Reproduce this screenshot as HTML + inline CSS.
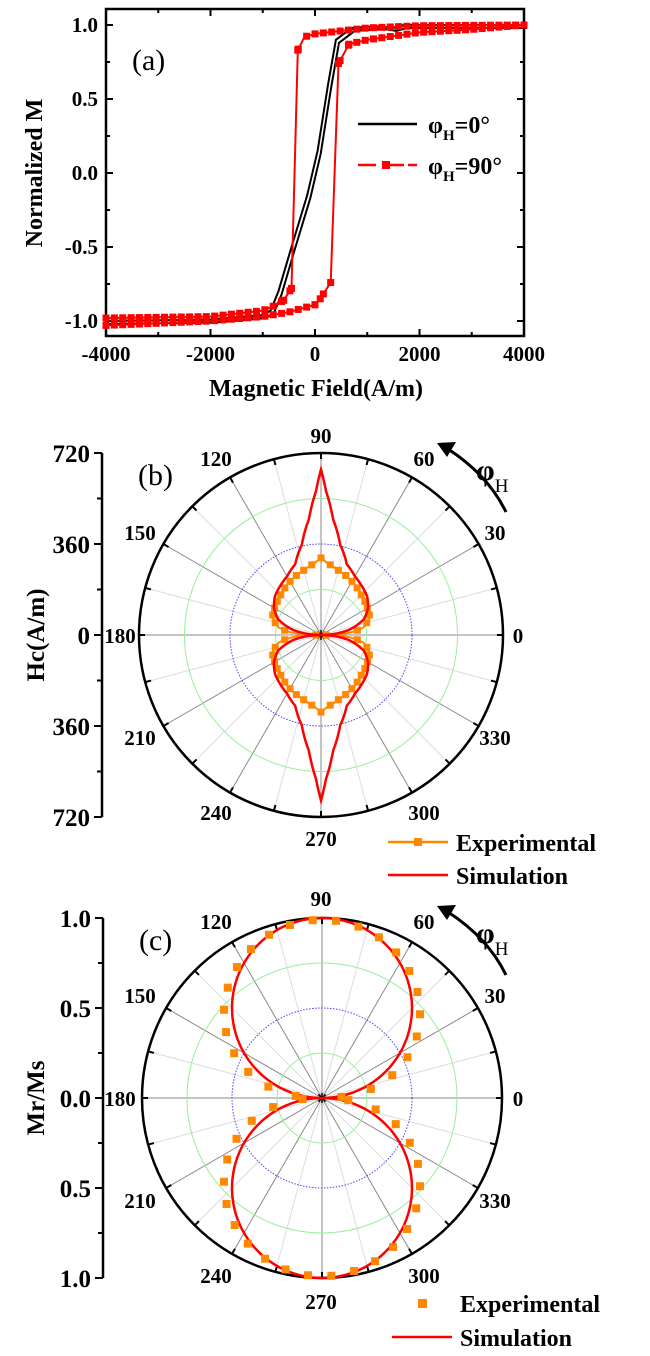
<!DOCTYPE html>
<html><head><meta charset="utf-8"><style>
body{margin:0;background:#fff}
svg{display:block}
text{font-family:"Liberation Serif",serif;font-weight:bold;fill:#000}
</style></head><body>
<svg id="s" width="650" height="1356" viewBox="0 0 650 1356" xmlns="http://www.w3.org/2000/svg"></svg>
<script>
const S=document.getElementById('s');let h='';
function interp(pts,x){for(let i=0;i<pts.length-1;i++){const [a,fa]=pts[i],[b,fb]=pts[i+1];if(x>=a&&x<=b){return fa+(fb-fa)*(x-a)/(b-a);}}return pts[pts.length-1][1];}
const X0=106,X1=524,Y0=9,Y1=336;
const hx=H=>X0+(H+4000)/8000*(X1-X0), my=M=>173-M*148;
h+=`<rect x="${X0}" y="${Y0}" width="${X1-X0}" height="${Y1-Y0}" fill="none" stroke="#000" stroke-width="2.5"/>`;
for(let H=-4000;H<=4000;H+=1000){const x=hx(H),L=H%2000==0?7:4;h+=`<line x1="${x}" y1="${Y1}" x2="${x}" y2="${Y1-L}" stroke="#000" stroke-width="2"/><line x1="${x}" y1="${Y0}" x2="${x}" y2="${Y0+L}" stroke="#000" stroke-width="2"/>`;}
for(let M=-1;M<=1.001;M+=0.25){const y=my(M),L=Math.abs(M*2%1)<0.01?7:4;h+=`<line x1="${X0}" y1="${y}" x2="${X0+L}" y2="${y}" stroke="#000" stroke-width="2"/><line x1="${X1}" y1="${y}" x2="${X1-L}" y2="${y}" stroke="#000" stroke-width="2"/>`;}
[-4000,-2000,0,2000,4000].forEach(H=>h+=`<text x="${hx(H)}" y="361" font-size="21" text-anchor="middle">${H}</text>`);
[[1,'1.0'],[0.5,'0.5'],[0,'0.0'],[-0.5,'-0.5'],[-1,'-1.0']].forEach(([M,t])=>h+=`<text x="98" y="${my(M)+7}" font-size="21" text-anchor="end">${t}</text>`);
h+=`<text x="316" y="396" font-size="24" text-anchor="middle">Magnetic Field(A/m)</text>`;
h+=`<text transform="translate(42,173) rotate(-90)" font-size="24" text-anchor="middle">Normalized M</text>`;
h+=`<text x="132" y="70" font-size="30" style="font-weight:normal" >(a)</text>`;
function path(pts){return pts.map((p,i)=>(i?'L':'M')+p[0].toFixed(1)+','+p[1].toFixed(1)).join('');}
const bd=[[-4000,-1],[-2000,-0.99],[-1000,-0.96],[-850,-0.93],[-700,-0.8],[-450,-0.5],[-150,-0.15],[50,0.15],[250,0.6],[400,0.9],[700,0.98],[1100,0.99],[1300,0.99],[1500,0.98],[1700,1],[4000,1]];
h+=`<path d="${path(bd.map(p=>[hx(p[0]),my(p[1])]))}" fill="none" stroke="#000" stroke-width="2"/>`;
h+=`<path d="${path(bd.map(p=>[hx(p[0]+60),my(p[1]-0.02)]))}" fill="none" stroke="#000" stroke-width="2"/>`;
const rd=[[4000,1],[2000,0.995],[1000,0.98],[500,0.96],[0,0.94],[-100,0.93],[-200,0.92],[-330,0.83],[-450,-0.78],[-600,-0.86],[-800,-0.9],[-1000,-0.93],[-2000,-0.97],[-4000,-0.98]];
const ru=[[-4000,-1.03],[-2000,-1.0],[-1000,-0.97],[-500,-0.94],[-200,-0.91],[0,-0.89],[100,-0.85],[300,-0.74],[450,0.74],[650,0.87],[1000,0.9],[2000,0.95],[3000,0.97],[4000,1.0]];
h+=`<path d="${path(rd.map(p=>[hx(p[0]),my(p[1])]))}" fill="none" stroke="red" stroke-width="2"/>`;
h+=`<path d="${path(ru.map(p=>[hx(p[0]),my(p[1])]))}" fill="none" stroke="red" stroke-width="2"/>`;
[rd,ru].forEach(br=>{for(let H=-4000;H<=4000;H+=160){const M=interp(br.slice().sort((a,b)=>a[0]-b[0]),H);if(Math.abs(M)<0.7)continue;h+=`<rect x="${hx(H)-3.5}" y="${my(M)-3.5}" width="7" height="7" fill="red"/>`;}
 br.forEach(p=>{if(Math.abs(p[1])<0.9)h+=`<rect x="${hx(p[0])-3.5}" y="${my(p[1])-3.5}" width="7" height="7" fill="red"/>`;});});
h+=`<line x1="358" y1="124" x2="417" y2="124" stroke="#000" stroke-width="2.5"/>`;
h+=`<path d="M358,165H376M386,165H404M408,165H417" stroke="red" stroke-width="2.5"/><rect x="382" y="161" width="8" height="8" fill="red"/>`;
h+=`<text x="428" y="133" font-size="24">φ<tspan font-size="15" dy="7">H</tspan><tspan dy="-7">=0°</tspan></text>`;
h+=`<text x="428" y="174" font-size="24">φ<tspan font-size="15" dy="7">H</tspan><tspan dy="-7">=90°</tspan></text>`;
function polar(cx,cy,R,ax,labs,lbl,ttl){
 const rad=d=>d*Math.PI/180;
 for(let d=0;d<360;d+=15){const major=d%30==0;h+=`<line x1="${cx}" y1="${cy}" x2="${cx+R*Math.cos(rad(d))}" y2="${cy-R*Math.sin(rad(d))}" stroke="${major?'#888':'#ddd'}" stroke-width="1"/>`;}
 [0.25,0.75].forEach(f=>h+=`<circle cx="${cx}" cy="${cy}" r="${R*f}" fill="none" stroke="#9e9" stroke-width="1"/>`);
 h+=`<circle cx="${cx}" cy="${cy}" r="${R*0.5}" fill="none" stroke="#44f" stroke-width="1" stroke-dasharray="1.5,1.5"/>`;
 h+=`<circle cx="${cx}" cy="${cy}" r="${R}" fill="none" stroke="#000" stroke-width="2.5"/>`;
 for(let d=0;d<360;d+=15){const c=Math.cos(rad(d)),s=Math.sin(rad(d));h+=`<line x1="${cx+R*c}" y1="${cy-R*s}" x2="${cx+(R-6)*c}" y2="${cy-(R-6)*s}" stroke="#000" stroke-width="2"/>`;}
 h+=`<line x1="${ax}" y1="${cy-R}" x2="${ax}" y2="${cy+R}" stroke="#000" stroke-width="2.5"/>`;
 for(let i=-4;i<=4;i++){const y=cy+i*R/4,L=i%2==0?8:5;h+=`<line x1="${ax-L}" y1="${y}" x2="${ax}" y2="${y}" stroke="#000" stroke-width="2"/>`;}
 labs.forEach((t,i)=>h+=`<text x="${ax-12}" y="${cy-R+i*R/2+9}" font-size="25" text-anchor="end">${t}</text>`);
 const lp={0:[518,0],30:[495,-103],60:[424,-177],90:[321,-200],120:[216,-177],150:[140,-103],180:[120,0],210:[140,102],240:[216,177],270:[321,203],300:[424,177],330:[495,102]};
 for(const k in lp){h+=`<text x="${lp[k][0]}" y="${cy+lp[k][1]+8}" font-size="21" text-anchor="middle">${k}</text>`;}
 h+=`<text x="${ax+36}" y="${cy-R+32}" font-size="30" style="font-weight:normal">${lbl}</text>`;
 h+=`<text transform="translate(44,${cy}) rotate(-90)" font-size="25" text-anchor="middle">${ttl}</text>`;
 h+=`<path d="M506,${cy-123} Q488,${cy-160} 448,${cy-186}" fill="none" stroke="#000" stroke-width="3"/>`;
 h+=`<path d="M437,${cy-192} L456,${cy-193} L447,${cy-178} Z" fill="#000"/>`;
 h+=`<text x="476" y="${cy-155}" font-size="30">φ<tspan font-size="19" dy="12" style="font-weight:normal">H</tspan></text>`;
 for(let a=0;a<360;a+=45){h+=`<line x1="${cx}" y1="${cy}" x2="${cx+5*Math.cos(rad(a))}" y2="${cy-5*Math.sin(rad(a))}" stroke="#000" stroke-width="1.5"/>`;}
}
function curve(cx,cy,R,f,step){const p=[];for(let d=0;d<=360.001;d+=step){const r=f(d)*R;p.push([cx+r*Math.cos(d*Math.PI/180),cy-r*Math.sin(d*Math.PI/180)]);}return p;}
const fold=d=>{d=((d%360)+360)%360;let t=d%180;if(t>90)t=180-t;return t;};
const CXb=321,CYb=635,Rb=182;
polar(CXb,CYb,Rb,102,['720','360','0','360','720'],'(b)','Hc(A/m)');
const sim=[[0,0],[5,55],[10,110],[20,180],[30,215],[40,238],[50,252],[60,268],[70,298],[78,365],[84,460],[88,570],[90,655]];
const exp=[[0,20],[5,120],[10,170],[20,205],[30,212],[45,225],[60,245],[75,265],[85,285],[90,305]];
h+=`<path d="${path(curve(CXb,CYb,Rb,d=>interp(exp,fold(d))/720,1))}" fill="none" stroke="#f80" stroke-width="2"/>`;
curve(CXb,CYb,Rb,d=>interp(exp,fold(d))/720,7.5).forEach((p,i)=>{h+=`<rect x="${p[0]-3.5}" y="${p[1]-3.5}" width="7" height="7" fill="#f80"/>`;});
h+=`<path d="${path(curve(CXb,CYb,Rb,d=>interp(sim,fold(d))/720,0.5))}" fill="none" stroke="red" stroke-width="2.5"/>`;
h+=`<line x1="388" y1="842" x2="448" y2="842" stroke="#f80" stroke-width="2.5"/><rect x="414" y="838" width="8" height="8" fill="#f80"/>`;
h+=`<text x="456" y="851" font-size="24">Experimental</text>`;
h+=`<line x1="388" y1="875" x2="448" y2="875" stroke="red" stroke-width="2.5"/>`;
h+=`<text x="456" y="884" font-size="24">Simulation</text>`;
const CXc=322,CYc=1098,Rc=180;
polar(CXc,CYc,Rc,103,['1.0','0.5','0.0','0.5','1.0'],'(c)','Mr/Ms');
h+=`<path d="${path(curve(CXc,CYc,Rc,d=>Math.abs(Math.sin(d*Math.PI/180)),1))}" fill="none" stroke="red" stroke-width="2.5"/>`;
for(let d=3;d<360;d+=7.5){const s=Math.abs(Math.sin(d*Math.PI/180));const r=Math.min(1,Math.pow(s,0.75))*Rc*0.99;const x=CXc+r*Math.cos(d*Math.PI/180),y=CYc-r*Math.sin(d*Math.PI/180);h+=`<rect x="${x-4}" y="${y-4}" width="8" height="8" fill="#f80"/>`;}
h+=`<rect x="418" y="1299" width="9" height="9" fill="#f80"/>`;
h+=`<text x="460" y="1312" font-size="24">Experimental</text>`;
h+=`<line x1="392" y1="1337" x2="452" y2="1337" stroke="red" stroke-width="2.5"/>`;
h+=`<text x="460" y="1346" font-size="24">Simulation</text>`;
S.innerHTML=h;
</script>
</body></html>
